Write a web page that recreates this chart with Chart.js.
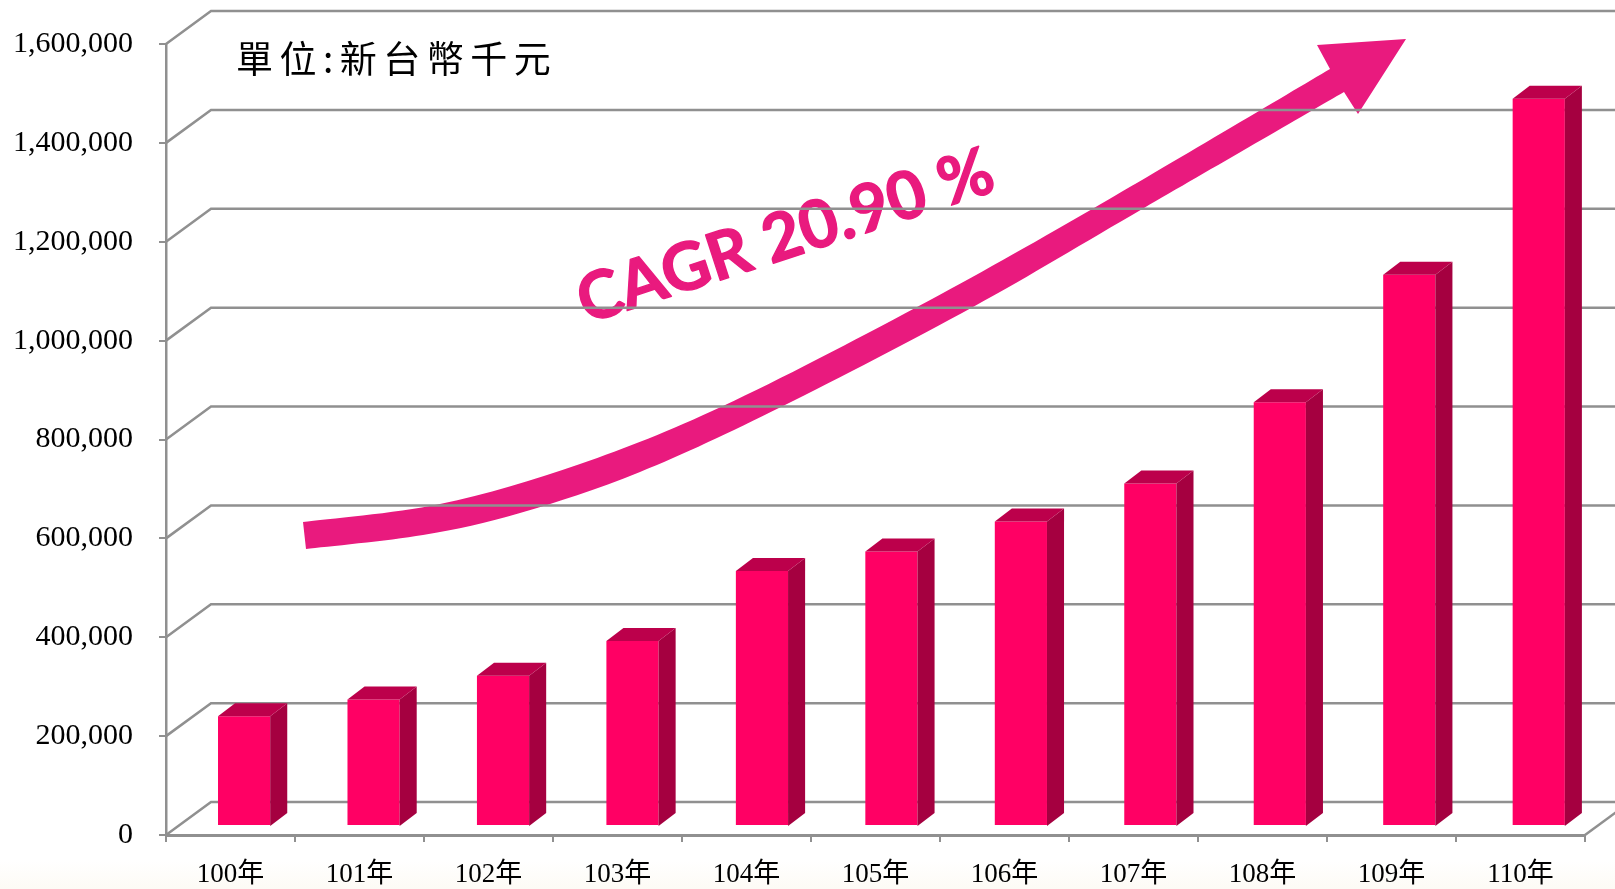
<!DOCTYPE html>
<html lang="zh-Hant"><head><meta charset="utf-8">
<style>
html,body{margin:0;padding:0;width:1615px;height:889px;overflow:hidden;background:linear-gradient(to bottom,#fff 0,#fff 860px,#fdfbf5 889px)}
canvas{display:block}
</style>
<script src="https://cdn.jsdelivr.net/npm/chart.js@4"></script>
</head><body>
<div style="width:1615px;height:889px;position:relative"><canvas id="c" width="1615" height="889"></canvas></div>
<script>
const categories = ['100年','101年','102年','103年','104年','105年','106年','107年','108年','109年','110年'];
const revenue = [222000,256000,304000,374000,516000,555000,616000,693000,857000,1115000,1471000];
const unitLabel = '單位:新台幣千元';
const cagrLabel = 'CAGR 20.90 %';
const GRID='#909090', FRONT='#ff0064', SIDE='#a50040', TOP='#bc004b', ACCENT='#e91a7e';
const WALL={dx:45,dy:-33}, BAR3D={dx:17,dy:-13};
const BAR_SHIFT={x:13.6,y:-9,k:1.0036};
const LABEL_FONT='"Liberation Serif","Noto Sans CJK TC",serif';

function smooth(ctx,pts){
  for(let i=0;i<pts.length-1;i++){
    const p0=pts[Math.max(i-1,0)],p1=pts[i],p2=pts[i+1],p3=pts[Math.min(i+2,pts.length-1)];
    ctx.bezierCurveTo(p1[0]+(p2[0]-p0[0])/6,p1[1]+(p2[1]-p0[1])/6,p2[0]-(p3[0]-p1[0])/6,p2[1]-(p3[1]-p1[1])/6,p2[0],p2[1]);
  }
}
function drawArrowAndCagr(c){
  c.save();
  c.fillStyle=ACCENT;c.strokeStyle=ACCENT;c.beginPath();
  const topEdge=[[303,522],[440,504],[580,464],[723,406],[917,307],[1094,208],[1330,69]];
  const botEdge=[[1344,92],[1144,208],[973,307],[783,406],[640,472],[520,513],[423,535],[306,549]];
  c.moveTo(...topEdge[0]);smooth(c,topEdge);
  c.lineTo(1317,45);c.lineTo(1406,39);c.lineTo(1358,114);c.lineTo(1344,92);
  smooth(c,botEdge);c.closePath();c.fill();
  c.translate(586,324);c.rotate(-18*Math.PI/180);
  c.font='700 66px Lato,"Open Sans",sans-serif';c.textAlign='left';c.textBaseline='alphabetic';
  c.lineWidth=1.4;c.lineJoin='round';
  c.fillText(cagrLabel,0,0);c.strokeText(cagrLabel,0,0);
  c.restore();
}
const threeD={
  id:'threeD',
  beforeDatasetsDraw(chart){
    const {ctx,scales:{y},chartArea:a}=chart;
    drawArrowAndCagr(ctx);
    ctx.save();ctx.strokeStyle=GRID;ctx.lineWidth=2.5;
    y.ticks.forEach(t=>{
      const py=y.getPixelForValue(t.value);
      ctx.beginPath();ctx.moveTo(a.left,py);ctx.lineTo(a.left+WALL.dx,py+WALL.dy);ctx.lineTo(1615,py+WALL.dy);ctx.stroke();
    });
    const y0=y.getPixelForValue(0);
    ctx.beginPath();ctx.moveTo(a.right,y0);ctx.lineTo(a.right+WALL.dx,y0+WALL.dy);ctx.stroke();
    ctx.restore();
  },
  beforeDatasetDraw(chart){
    const c=chart.ctx,a=chart.chartArea;
    c.save();
    c.transform(BAR_SHIFT.k,0,0,1,BAR_SHIFT.x-(BAR_SHIFT.k-1)*(a.left+64.5),BAR_SHIFT.y);
  },
  afterDatasetDraw(chart){
    const c=chart.ctx,y=chart.scales.y,y0=y.getPixelForValue(0);
    chart.getDatasetMeta(0).data.forEach(b=>{
      const l=b.x-b.width/2,r=b.x+b.width/2,t=b.y,d=BAR3D;
      c.fillStyle=SIDE;c.beginPath();c.moveTo(r,t);c.lineTo(r+d.dx,t+d.dy);c.lineTo(r+d.dx,y0+d.dy);c.lineTo(r,y0);c.closePath();c.fill();
      c.fillStyle=TOP;c.beginPath();c.moveTo(l,t);c.lineTo(l+d.dx,t+d.dy);c.lineTo(r+d.dx,t+d.dy);c.lineTo(r,t);c.closePath();c.fill();
    });
    c.restore();
  },
  afterDraw(chart){
    const c=chart.ctx;
    c.save();
    c.letterSpacing='6.5px';c.fillStyle='#000';c.font='37px "Noto Sans CJK TC",serif';c.textBaseline='middle';c.textAlign='left';
    c.fillText(unitLabel,236,59);
    c.restore();
  }
};
new Chart(document.getElementById('c'),{
  type:'bar',
  data:{labels:categories,datasets:[{data:revenue,backgroundColor:FRONT,barPercentage:0.403,categoryPercentage:1,clip:false}]},
  plugins:[threeD],
  options:{
    responsive:false,animation:false,
    layout:{padding:{top:43,right:30,left:0,bottom:0}},
    plugins:{legend:{display:false},tooltip:{enabled:false}},
    scales:{
      x:{
        afterFit(s){s.height=54;},
        grid:{drawOnChartArea:false,color:GRID,lineWidth:2,tickLength:7,tickColor:GRID},
        border:{color:GRID,width:3},
        ticks:{color:'#000',padding:17,maxRotation:0,font:{family:LABEL_FONT,size:27}}
      },
      y:{
        min:0,max:1600000,
        afterFit(s){s.width=166;},
        grid:{drawOnChartArea:false,color:GRID,lineWidth:2,tickLength:7,tickColor:GRID},
        border:{color:GRID,width:2.5},
        ticks:{stepSize:200000,color:'#000',padding:26,font:{family:LABEL_FONT,size:30},callback:v=>v.toLocaleString('en-US')}
      }
    }
  }
});
</script>
</body></html>
